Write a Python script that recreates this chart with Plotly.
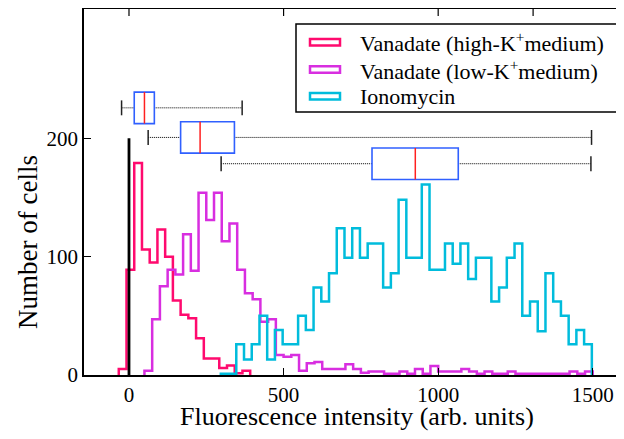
import plotly.graph_objects as go

# ---------------- data ----------------
bin_width = 25

high_k_start = -33
high_k_counts = [5, 89, 179, 106, 95, 123, 100, 63, 51, 48, 31, 14, 14, 6, 8, 1.5, 3.5]

low_k_start = 50
low_k_counts = [3.5, 47, 75, 89, 85, 119, 88, 154, 131, 154, 113, 128, 89, 69, 64, 45, 47,
                17, 15.5, 17, 3.5, 10, 11, 5, 5, 5, 9, 5, 2, 3, 3, 1, 1, 3, 1, 5, 1, 7.5,
                3, 3, 3, 5, 3, 1, 3, 1, 1, 3, 1, 1, 1, 1, 1, 1, 1, 3, 1, 3]

iono_start = 297
iono_counts = [1, 1, 26, 13, 26, 50, 13, 38, 26, 26, 50, 38, 74, 62, 86, 124, 99, 124, 99,
               111, 111, 74, 86, 148, 99, 99, 161, 89, 89, 111, 94, 111, 81, 99, 99, 62,
               74, 99, 111, 50, 62, 37, 86, 62, 50, 26, 38, 26]

series_names = ["Vanadate (high-K<sup>+</sup>medium)",
                "Vanadate (low-K<sup>+</sup>medium)",
                "Ionomycin"]
series_colors = ["#ff0a6e", "#d82ee0", "#00bcdc"]

# box-plot summary (order: high-K, low-K, ionomycin)
box_lo = [-24, 62, 298]
box_q1 = [17, 167, 786]
box_med = [50, 230, 926]
box_q3 = [82, 341, 1065]
box_hi = [366, 1496, 1494]
box_pos = [225.7, 200.7, 178.5]
box_half = 13.3
cap_half = 6.3

zero_line_x = 0
zero_line_top = 200

x_ticks = [0, 500, 1000, 1500]
top_ticks = [0, 500, 1000, 1307]
y_ticks = [0, 100, 200]
x_range = [-145.5, 1601]
y_range = [0, 309.2]

# ---------------- figure ----------------
OFF = 8  # page body margin of the html page
W, H = 624 - OFF, 439 - OFF
ML, MT, MB, MR = 84 - OFF, 1, 64, 0
FONT = "Liberation Serif, DejaVu Serif, serif"


def step_xy(start, counts):
    edges = [start + i * bin_width for i in range(len(counts) + 1)]
    xs = [edges[0]] + edges
    ys = [0] + list(counts) + [0]
    return xs, ys


fig = go.Figure()
for (start, counts), name, col in zip(
        [(high_k_start, high_k_counts), (low_k_start, low_k_counts), (iono_start, iono_counts)],
        series_names, series_colors):
    xs, ys = step_xy(start, counts)
    fig.add_trace(go.Scatter(x=xs, y=ys, mode="lines", line_shape="hv",
                             line=dict(color=col, width=2.5), name=name,
                             showlegend=False, hoverinfo="skip"))

fig.add_trace(go.Scatter(x=[zero_line_x, zero_line_x], y=[0, zero_line_top], mode="lines",
                         line=dict(color="black", width=2.8), showlegend=False,
                         hoverinfo="skip"))

shapes = []
for lo, q1, med, q3, hi, yp in zip(box_lo, box_q1, box_med, box_q3, box_hi, box_pos):
    shapes.append(dict(type="line", xref="x", yref="y", x0=lo, x1=q1, y0=yp, y1=yp,
                       line=dict(color="black", width=1, dash="1px,1px"), layer="above"))
    shapes.append(dict(type="line", xref="x", yref="y", x0=q3, x1=hi, y0=yp, y1=yp,
                       line=dict(color="black", width=1, dash="1px,1px"), layer="above"))
    for xc in (lo, hi):
        shapes.append(dict(type="line", xref="x", yref="y", x0=xc, x1=xc,
                           y0=yp - cap_half, y1=yp + cap_half,
                           line=dict(color="#222222", width=1.5), layer="above"))
    shapes.append(dict(type="rect", xref="x", yref="y", x0=q1, x1=q3,
                       y0=yp - box_half, y1=yp + box_half,
                       line=dict(color="#3060ff", width=1.6), fillcolor="white",
                       layer="above"))
    shapes.append(dict(type="line", xref="x", yref="y", x0=med, x1=med,
                       y0=yp - box_half, y1=yp + box_half,
                       line=dict(color="#ff2020", width=1.5), layer="above"))

# ---------- page-pixel helpers (layout only) ----------
PW = W - ML - MR
PH = H - MT - MB


def px(xp):
    return (xp - OFF - ML) / PW


def py(yp):
    return (H - MB - (yp - OFF)) / PH


# top-frame tick marks
for tx in top_ticks:
    shapes.append(dict(type="line", xref="x", yref="paper", x0=tx, x1=tx,
                       y0=1, y1=1 - 7 / PH, line=dict(color="black", width=1.2)))

annotations = []
shapes.append(dict(type="rect", xref="paper", yref="paper", x0=px(296), x1=px(618),
                   y0=py(112), y1=py(24), line=dict(color="black", width=1.5),
                   fillcolor="white", layer="above"))
row_y = [42.2, 69.5, 96.2]
for name, col, ry in zip(series_names, series_colors, row_y):
    shapes.append(dict(type="rect", xref="paper", yref="paper", x0=px(310), x1=px(340),
                       y0=py(ry + 3.3), y1=py(ry - 3.3),
                       line=dict(color=col, width=2.5), fillcolor="white", layer="above"))
    annotations.append(dict(xref="paper", yref="paper", x=px(358), y=py(ry), text=name,
                            showarrow=False, xanchor="left", yanchor="middle",
                            font=dict(family=FONT, size=22, color="black")))

annotations.append(dict(xref="paper", yref="paper", x=px(357), y=py(416),
                        text="Fluorescence intensity (arb. units)", showarrow=False,
                        xanchor="center", yanchor="middle",
                        font=dict(family=FONT, size=26, color="black")))
annotations.append(dict(xref="paper", yref="paper", x=px(28), y=py(242),
                        text="Number of cells", showarrow=False, textangle=-90,
                        xanchor="center", yanchor="middle",
                        font=dict(family=FONT, size=27, color="black")))

fig.update_layout(
    width=W, height=H, autosize=False,
    margin=dict(l=ML, r=MR, t=MT, b=MB, pad=0),
    plot_bgcolor="white", paper_bgcolor="white",
    shapes=shapes, annotations=annotations,
    showlegend=False,
    font=dict(family=FONT, size=21, color="black"),
)
fig.update_xaxes(range=x_range, tickvals=x_ticks, ticks="inside", ticklen=7, tickwidth=1.2,
                 tickcolor="black", showline=True, linecolor="black", linewidth=1.5,
                 mirror=True, showgrid=False, zeroline=False,
                 tickfont=dict(family=FONT, size=21, color="black"))
fig.update_yaxes(range=y_range, tickvals=y_ticks, ticks="inside", ticklen=7, tickwidth=1.2,
                 tickcolor="black", showline=True, linecolor="black", linewidth=1.5,
                 mirror=False, showgrid=False, zeroline=False,
                 tickfont=dict(family=FONT, size=21, color="black"))

fig.write_html("out.html")
